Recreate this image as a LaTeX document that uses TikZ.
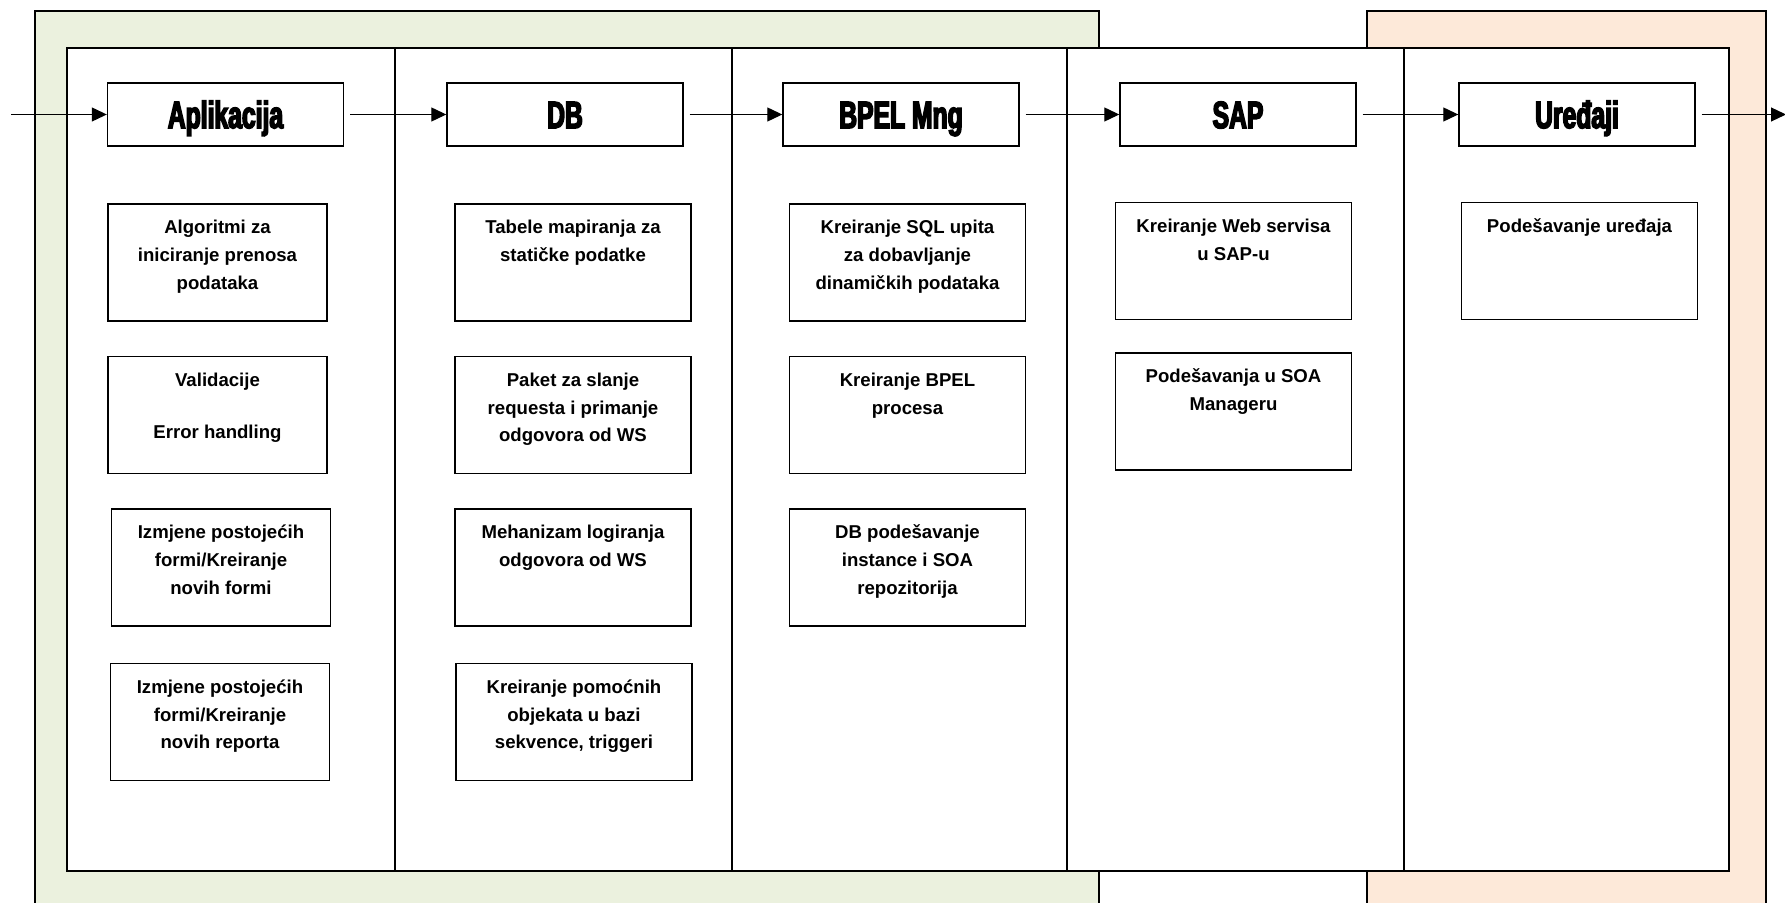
\documentclass[tikz,border=0pt]{standalone}
\usepackage{fontspec}
\setmainfont{Liberation Sans}
\newfontfamily\headfont{Liberation Sans Bold}[FakeStretch=0.65,FakeBold=4]
\usetikzlibrary{positioning, arrows.meta}
\definecolor{appgreen}{HTML}{EBF1DE}
\definecolor{devorange}{HTML}{FDE9D9}
\newcommand{\tasktext}[2]{\parbox[c][58.5pt][t]{#1}{\centering\rule{0pt}{15pt}#2}}

\begin{document}
\begin{tikzpicture}[x=0.5pt, y=-0.5pt,
    head/.style={draw, line width=0.7pt, minimum width=118pt, minimum height=31.5pt, inner sep=0pt, text height=13.6pt, text depth=0pt, font=\headfont\fontsize{19}{22}\selectfont},
    task/.style={draw, line width=0.7pt, inner sep=0pt, font=\bfseries\fontsize{9.3}{13.85}\selectfont},
    flow/.style={line width=0.6pt, -{Triangle[length=7.5pt,width=7pt]}}]

    \useasboundingbox (0,0) rectangle (1785,903);

    \draw[line width=0.6pt, fill=appgreen] (35,11) rectangle (1099,910);
    \draw[line width=0.6pt, fill=devorange] (1367,11) rectangle (1766,910);
    \draw[line width=0.6pt, fill=white] (67,48) rectangle (1729,871);
    \foreach \x in {395,732,1067,1404}
        \draw[line width=0.6pt] (\x,48) -- (\x,871);

    \node[head] (aplikacija) at (225.5,114.5) {Aplikacija};
    \node[head] (db) at (565,114.5) {DB};
    \node[head] (bpel) at (901,114.5) {BPEL Mng};
    \node[head] (sap) at (1238,114.5) {SAP};
    \node[head] (uredjaji) at (1577,114.5) {Uređaji};

    \coordinate (ulaz) at (11,114.5);
    \coordinate (izlaz) at (1786,114.5);

    \draw[flow] (ulaz) -- (aplikacija);
    \draw[flow] ([xshift=3pt]aplikacija.east) -- (db);
    \draw[flow] ([xshift=3pt]db.east) -- (bpel);
    \draw[flow] ([xshift=3pt]bpel.east) -- (sap);
    \draw[flow] ([xshift=3pt]sap.east) -- (uredjaji);
    \draw[flow] ([xshift=3pt]uredjaji.east) -- (izlaz);

    \node[task] (algoritmi) at (217.5,262.5) {\tasktext{109.5pt}{Algoritmi za\\iniciranje prenosa\\podataka}};
    \node[task] (validacije) at (217.5,415) {\tasktext{109.5pt}{Validacije\\[12pt]Error handling}};
    \node[task] (forme) at (221,567.5) {\tasktext{109.5pt}{Izmjene postojećih\\formi/Kreiranje\\novih formi}};
    \node[task] (reporti) at (220,722) {\tasktext{109.5pt}{Izmjene postojećih\\formi/Kreiranje\\novih reporta}};

    \node[task] (tabele) at (573,262.5) {\tasktext{118pt}{Tabele mapiranja za\\statičke podatke}};
    \node[task] (paket) at (573,415) {\tasktext{118pt}{Paket za slanje\\requesta i primanje\\odgovora od WS}};
    \node[task] (logiranje) at (573,567.5) {\tasktext{118pt}{Mehanizam logiranja\\odgovora od WS}};
    \node[task] (objekti) at (574,722) {\tasktext{118pt}{Kreiranje pomoćnih\\objekata u bazi\\sekvence, triggeri}};

    \node[task] (sqlupit) at (907.5,262.5) {\tasktext{118pt}{Kreiranje SQL upita\\za dobavljanje\\dinamičkih podataka}};
    \node[task] (bpelproces) at (907.5,415) {\tasktext{118pt}{Kreiranje BPEL\\procesa}};
    \node[task] (instanca) at (907.5,567.5) {\tasktext{118pt}{DB podešavanje\\instance i SOA\\repozitorija}};

    \node[task] (webservis) at (1233.5,261) {\tasktext{118pt}{Kreiranje Web servisa\\u SAP-u}};
    \node[task] (soamng) at (1233.5,411.5) {\tasktext{118pt}{Podešavanja u SOA\\Manageru}};

    \node[task] (podesavanje) at (1579.5,261) {\tasktext{118pt}{Podešavanje uređaja}};
\end{tikzpicture}
\end{document}
